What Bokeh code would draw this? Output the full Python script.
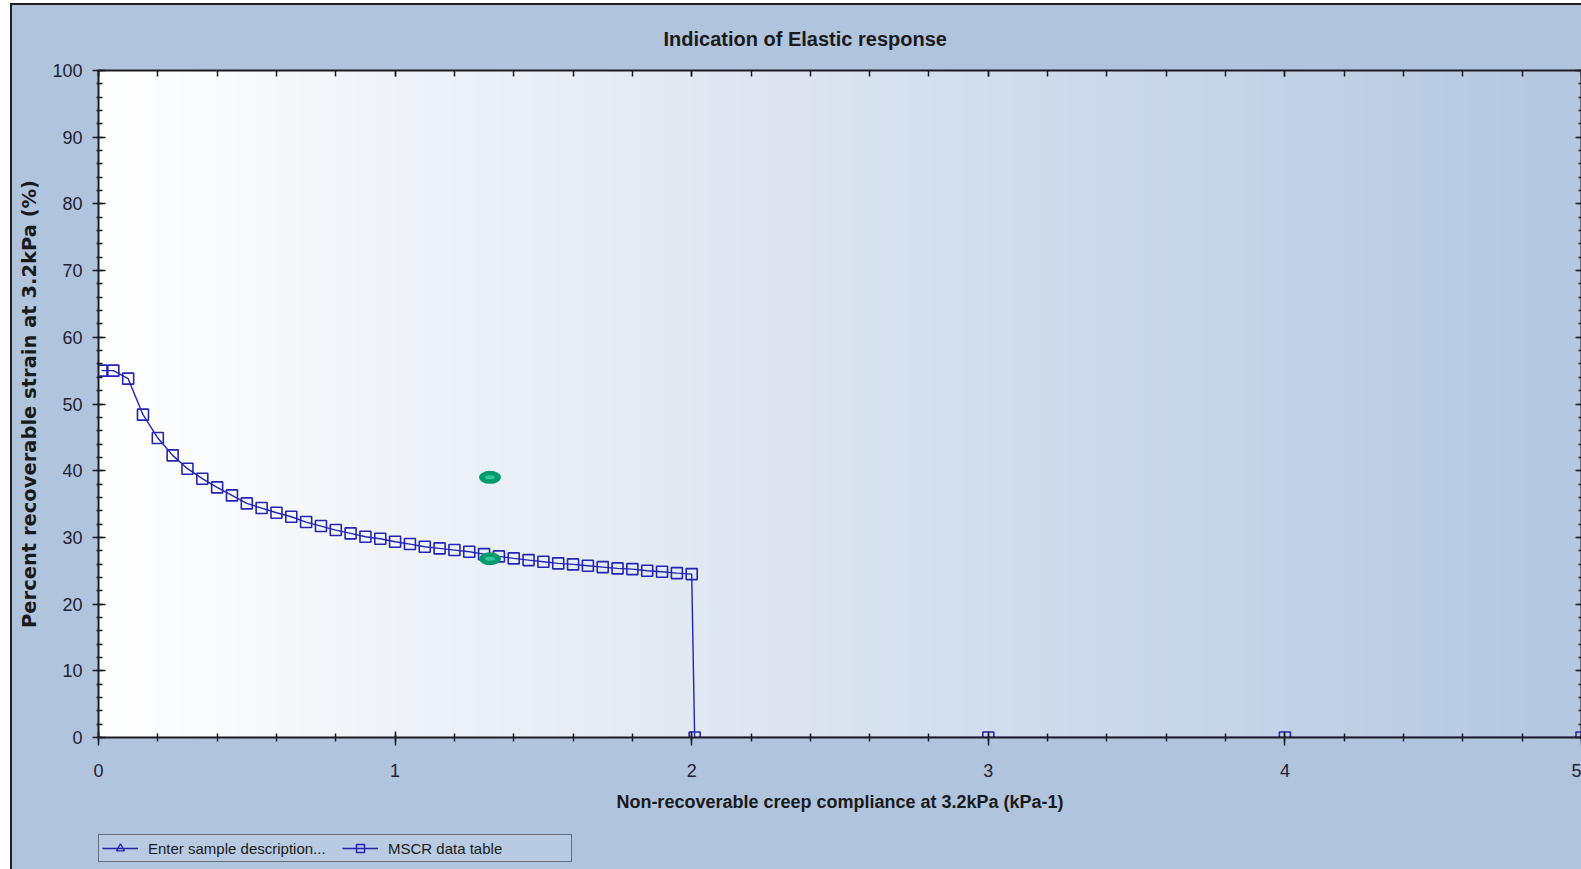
import numpy as np
from bokeh.plotting import figure
from bokeh.layouts import column
from bokeh.models import (Range1d, LinearAxis, Legend, LegendItem, SingleIntervalTicker,
                          CustomLabelingPolicy)
from bokeh.embed import file_html
from bokeh.resources import INLINE

# ---------------- data ----------------
title_text = "Indication of Elastic response"
x_label = "Non-recoverable creep compliance at 3.2kPa (kPa-1)"
y_label = "Percent recoverable strain at 3.2kPa (%)"
series_names = ["Enter sample description...", "MSCR data table"]

# the sample series holds no measured value
sample_x = [np.nan]
sample_y = [np.nan]

mscr_x = [0.01, 0.05, 0.10, 0.15, 0.20, 0.25, 0.30, 0.35, 0.40, 0.45,
          0.50, 0.55, 0.60, 0.65, 0.70, 0.75, 0.80, 0.85, 0.90, 0.95,
          1.00, 1.05, 1.10, 1.15, 1.20, 1.25, 1.30, 1.35, 1.40, 1.45,
          1.50, 1.55, 1.60, 1.65, 1.70, 1.75, 1.80, 1.85, 1.90, 1.95,
          2.00, 2.01, 3.00, 4.00, 5.00]
mscr_y = [55.0, 55.0, 53.8, 48.4, 44.9, 42.3, 40.3, 38.8, 37.5, 36.3,
          35.1, 34.4, 33.7, 33.1, 32.3, 31.7, 31.1, 30.6, 30.1, 29.8,
          29.35, 29.0, 28.6, 28.35, 28.1, 27.85, 27.5, 27.15, 26.85, 26.6,
          26.35, 26.1, 25.95, 25.75, 25.55, 25.35, 25.25, 25.0, 24.85, 24.65,
          24.5, 0.0, 0.0, 0.0, 0.0]

highlight_x = [1.32, 1.32]
highlight_y = [39.0, 26.8]

x_min, x_max, x_step = 0, 5, 1
y_min, y_max, y_step = 0, 100, 10

# ---------------- style ----------------
SANS = "Liberation Sans"
BG = "#b0c4de"
BLUE = "#2424b4"
AXIS = "#1c1c24"

p = figure(width=1569, height=828, output_backend="svg", toolbar_location=None,
           x_range=Range1d(x_min, x_max), y_range=Range1d(y_min, y_max),
           min_border_left=86, min_border_top=65, min_border_bottom=96,
           min_border_right=0)

p.background_fill_color = BG
p.border_fill_color = BG
p.outline_line_color = None
p.xgrid.visible = False
p.ygrid.visible = False

# horizontal gradient of the plotting area
N = 400
t = np.linspace(0.0, 1.0, N)
img = np.empty((1, N), dtype=np.uint32)
view = img.view(dtype=np.uint8).reshape((1, N, 4))
view[0, :, 0] = (255 - (255 - 180) * t).astype(np.uint8)
view[0, :, 1] = (255 - (255 - 200) * t).astype(np.uint8)
view[0, :, 2] = (255 - (255 - 225) * t).astype(np.uint8)
view[0, :, 3] = 255
p.image_rgba(image=[img], x=x_min, y=y_min, dw=x_max - x_min, dh=y_max - y_min, level="image")

# title
p.title.text = title_text
p.title.text_font = SANS
p.title.text_font_size = "20px"
p.title.text_font_style = "bold"
p.title.text_color = "#1a1a1a"
p.title.align = "left"
p.title.offset = 565
p.title.standoff = 41

# axes
def style_axis(ax, tin, tout, mtin, mtout):
    ax.axis_line_color = AXIS
    ax.axis_line_width = 2
    ax.major_tick_line_color = AXIS
    ax.minor_tick_line_color = AXIS
    ax.major_tick_line_width = 1.5
    ax.minor_tick_line_width = 1.5
    ax.major_tick_in = tin
    ax.major_tick_out = tout
    ax.minor_tick_in = mtin
    ax.minor_tick_out = mtout

xa = p.xaxis[0]
xa.ticker = SingleIntervalTicker(interval=x_step, num_minor_ticks=5)
style_axis(xa, 6, 8, 4, 4)
xa.major_label_text_font = SANS
xa.major_label_text_font_size = "18px"
xa.major_label_text_color = "#222233"
xa.major_label_standoff = 18
xa.axis_label = x_label
xa.axis_label_text_font = SANS
xa.axis_label_text_font_size = "18px"
xa.axis_label_text_font_style = "bold"
xa.axis_label_text_color = "#1a1a1a"
xa.axis_label_standoff = 12

ya = p.yaxis[0]
ya.ticker = SingleIntervalTicker(interval=y_step, num_minor_ticks=5)
style_axis(ya, 7, 6, 4, 2)
ya.major_label_text_font = SANS
ya.major_label_text_font_size = "18px"
ya.major_label_text_color = "#222233"
ya.major_label_standoff = 10
ya.axis_label = y_label
ya.axis_label_text_font = "DejaVu Sans"
ya.axis_label_text_font_size = "19.5px"
ya.axis_label_text_font_style = "bold"
ya.axis_label_text_color = "#1a1a1a"
ya.axis_label_standoff = 8

top = LinearAxis(ticker=SingleIntervalTicker(interval=x_step, num_minor_ticks=5))
style_axis(top, 6, 0, 6, 0)
top.major_label_text_font_size = "0px"
top.major_label_standoff = 0
top.major_label_policy = CustomLabelingPolicy(code="return new Set()")
p.add_layout(top, "above")

right = LinearAxis(ticker=SingleIntervalTicker(interval=y_step, num_minor_ticks=5))
style_axis(right, 6, 0, 3, 0)
right.major_label_text_font_size = "0px"
right.major_label_standoff = 0
right.major_label_policy = CustomLabelingPolicy(code="return new Set()")
p.add_layout(right, "right")

# series
p.line(sample_x, sample_y, line_color=BLUE, line_width=1.3)
p.scatter(sample_x, sample_y, marker="triangle", size=9, line_color=BLUE,
          fill_alpha=0, line_width=1.3)
p.line(mscr_x, mscr_y, line_color=BLUE, line_width=1.4)
p.scatter(mscr_x, mscr_y, marker="square", size=11, line_color=BLUE,
          fill_alpha=0, line_width=1.6)

# green highlight markers
p.ellipse(highlight_x, highlight_y, width=22, height=13, width_units="screen",
          height_units="screen", fill_color="#009a6c", line_color=None)
p.ellipse(highlight_x, highlight_y, width=10, height=4, width_units="screen",
          height_units="screen", fill_color="#35c79c", line_color=None)

# ---------------- legend strip ----------------
p2 = figure(width=1569, height=36, output_backend="svg", toolbar_location=None,
            x_range=Range1d(0, 1), y_range=Range1d(0, 1),
            x_axis_location=None, y_axis_location=None, min_border=0)
p2.background_fill_color = None
p2.border_fill_color = BG
p2.outline_line_color = None
p2.xgrid.visible = False
p2.ygrid.visible = False

l1 = p2.line(sample_x, sample_y, line_color=BLUE, line_width=1.3)
m1 = p2.scatter(sample_x, sample_y, marker="triangle", size=9, line_color=BLUE,
                fill_alpha=0, line_width=1.3)
l2 = p2.line([np.nan], [np.nan], line_color=BLUE, line_width=1.4)
m2 = p2.scatter([np.nan], [np.nan], marker="square", size=10, line_color=BLUE,
                fill_alpha=0, line_width=1.5)

legend = Legend(items=[LegendItem(label=series_names[0], renderers=[l1, m1]),
                       LegendItem(label=series_names[1], renderers=[l2, m2])],
                orientation="horizontal", location=(0, 7))
legend.margin = 0
legend.padding = 3
legend.spacing = 14
legend.glyph_width = 36
legend.glyph_height = 20
legend.label_height = 20
legend.label_width = 180
legend.label_standoff = 10
legend.label_text_font = SANS
legend.label_text_font_size = "15px"
legend.label_text_color = "#1a1a1a"
legend.border_line_color = "#101010"
legend.border_line_width = 1.5
legend.background_fill_color = "#b9cbe2"
legend.background_fill_alpha = 1.0
p2.add_layout(legend, "center")

layout = column(p, p2, spacing=0)
layout.margin = (3, 0, 0, 10)
layout.styles = {"border-left": "2px solid #202020", "border-top": "2px solid #202020",
                 "background-color": BG}

open("out.html", "w").write(file_html(layout, INLINE))
